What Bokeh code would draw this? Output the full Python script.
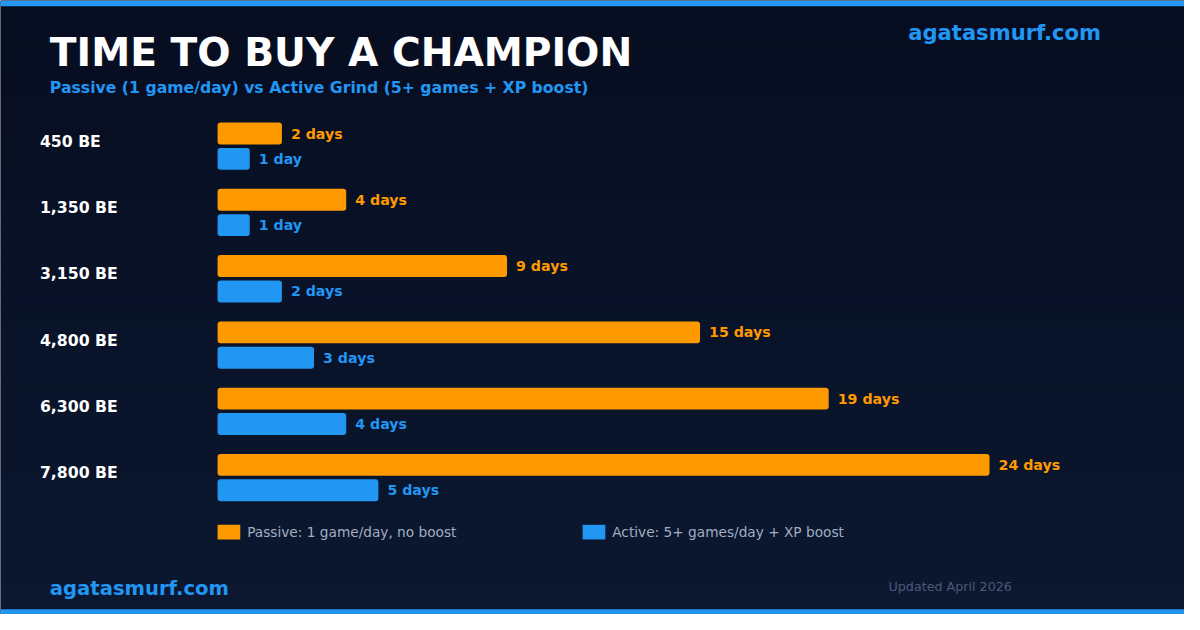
from bokeh.plotting import figure
from bokeh.models import Range1d, Label, ColumnDataSource, LabelSet
from bokeh.core.properties import value
from bokeh.embed import file_html
from bokeh.resources import INLINE

# ---- data ----
categories = ["450 BE", "1,350 BE", "3,150 BE", "4,800 BE", "6,300 BE", "7,800 BE"]
passive_days = [2, 4, 9, 15, 19, 24]
active_days = [1, 1, 2, 3, 4, 5]
passive_labels = ["2 days", "4 days", "9 days", "15 days", "19 days", "24 days"]
active_labels = ["1 day", "1 day", "2 days", "3 days", "4 days", "5 days"]
legend_labels = ["Passive: 1 game/day, no boost", "Active: 5+ games/day + XP boost"]
title_text = "TIME TO BUY A CHAMPION"
subtitle_text = "Passive (1 game/day) vs Active Grind (5+ games + XP boost)"
brand = "agatasmurf.com"
updated = "Updated April 2026"

ORANGE = "#ff9900"
BLUE = "#2196f3"
FONT = "DejaVu Sans"

# ---- layout constants (design pixels, 1200x630 canvas) ----
X0 = 220          # day 0
PX_PER_DAY = 32.6
ROW0 = 136.5
ROW_STEP = 68
BAR_GAP = 26
BAR_H = 22.5
S = 0.98          # font scale (figure is 1184x614)


def fs(px):
    return "%.1fpx" % (px * S)


W, H = 1184, 614
p = figure(width=W, height=H, output_backend="svg", toolbar_location=None,
           x_range=Range1d(0, 1200), y_range=Range1d(630, 0),
           min_border=0, min_border_left=0, min_border_right=0,
           min_border_top=0, min_border_bottom=0)
p.extra_x_ranges = {"days": Range1d(-X0 / PX_PER_DAY, (1200 - X0) / PX_PER_DAY)}
p.axis.visible = False
p.grid.visible = False
p.outline_line_color = None
p.background_fill_color = "#0a1428"
p.border_fill_color = "#0a1428"

# background gradient (styling)
top = (7, 13, 32)
bot = (11, 24, 48)
n = 40
tops, bots, cols = [], [], []
for i in range(n):
    t = i / (n - 1)
    c = tuple(int(round(top[k] + (bot[k] - top[k]) * t)) for k in range(3))
    tops.append(i * (630 / n))
    bots.append((i + 1) * (630 / n) + 0.5)
    cols.append("#%02x%02x%02x" % c)
p.quad(left=0, right=1200, top=tops, bottom=bots, fill_color=cols, line_color=None)

# accent strips
p.quad(left=0, right=1200, top=0, bottom=6, fill_color=BLUE, line_color=None)
p.quad(left=0, right=1200, top=624.5, bottom=630, fill_color=BLUE, line_color=None)

# bars
n_rows = len(categories)
y_p = [ROW0 + ROW_STEP * i for i in range(n_rows)]
y_a = [ROW0 + ROW_STEP * i + BAR_GAP for i in range(n_rows)]
y_c = [ROW0 + ROW_STEP * i + 8 for i in range(n_rows)]

src_p = ColumnDataSource(dict(y=y_p, v=passive_days, lab=passive_labels))
src_a = ColumnDataSource(dict(y=y_a, v=active_days, lab=active_labels))
src_c = ColumnDataSource(dict(y=y_c, lab=categories, x=[40] * n_rows))

p.hbar(y="y", left=0, right="v", height=BAR_H, source=src_p, x_range_name="days",
       fill_color=ORANGE, line_color=None, border_radius=3)
p.hbar(y="y", left=0, right="v", height=BAR_H, source=src_a, x_range_name="days",
       fill_color=BLUE, line_color=None, border_radius=3)

p.add_layout(LabelSet(x="v", y="y", text="lab", source=src_p, x_range_name="days",
                      x_offset=9, text_baseline="middle", text_color=ORANGE,
                      text_font=value(FONT), text_font_style="bold", text_font_size=fs(14.5)))
p.add_layout(LabelSet(x="v", y="y", text="lab", source=src_a, x_range_name="days",
                      x_offset=9, text_baseline="middle", text_color=BLUE,
                      text_font=value(FONT), text_font_style="bold", text_font_size=fs(14.5)))
p.add_layout(LabelSet(x="x", y="y", text="lab", source=src_c,
                      text_baseline="middle", text_color="#ffffff",
                      text_font=value(FONT), text_font_style="bold", text_font_size=fs(16)))

# titles
p.add_layout(Label(x=50, y=53.5, text=title_text, text_color="#ffffff", text_font=FONT,
                   text_font_style="bold", text_font_size=fs(40), text_baseline="middle"))
p.add_layout(Label(x=50, y=89.5, text=subtitle_text, text_color=BLUE, text_font=FONT,
                   text_font_style="bold", text_font_size=fs(16), text_baseline="middle"))
p.add_layout(Label(x=920, y=33, text=brand, text_color=BLUE, text_font=FONT,
                   text_font_style="bold", text_font_size=fs(21.5), text_baseline="middle"))

# legend
p.quad(left=220, right=243, top=538, bottom=553, fill_color=ORANGE, line_color=None)
p.quad(left=590, right=613, top=538, bottom=553, fill_color=BLUE, line_color=None)
p.add_layout(Label(x=250, y=545.5, text=legend_labels[0], text_color="#a3adc2", text_font=FONT,
                   text_font_size=fs(14), text_baseline="middle"))
p.add_layout(Label(x=620, y=545.5, text=legend_labels[1], text_color="#a3adc2", text_font=FONT,
                   text_font_size=fs(14), text_baseline="middle"))

# footer
p.add_layout(Label(x=50, y=603, text=brand, text_color=BLUE, text_font=FONT,
                   text_font_style="bold", text_font_size=fs(20), text_baseline="middle"))
p.add_layout(Label(x=900, y=601, text=updated, text_color="#4b5a78", text_font=FONT,
                   text_font_size=fs(13), text_baseline="middle"))

open("out.html", "w").write(file_html(p, INLINE))
